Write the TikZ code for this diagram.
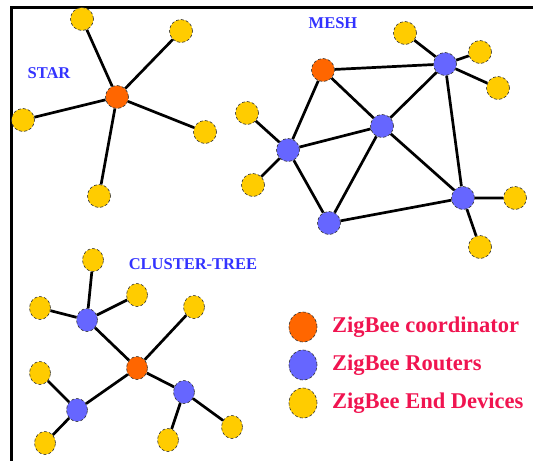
\documentclass[tikz,border=0pt]{standalone}
\usepackage{fontspec}
\setmainfont{Liberation Serif}
\usetikzlibrary{shapes.geometric}

\definecolor{coordorange}{RGB}{255,102,0}
\definecolor{routerblue}{RGB}{102,102,255}
\definecolor{devyellow}{RGB}{255,204,0}
\definecolor{titleblue}{RGB}{51,51,255}
\definecolor{legendred}{RGB}{240,20,80}

\tikzset{
	zb/.style={circle,minimum size=23pt,inner sep=0pt,draw=black!80,densely dashed,line width=0.6pt},
	zbc/.style={zb,fill=coordorange},
	zbr/.style={zb,fill=routerblue},
	zbe/.style={zb,fill=devyellow},
	tall/.style={ellipse,minimum width=21pt,minimum height=23pt},
	big/.style={ellipse,minimum width=28pt,minimum height=30pt},
	link/.style={line width=2.7pt,black},
	title/.style={text=titleblue,font=\fontsize{16.5}{18}\selectfont\bfseries,inner sep=0pt},
	legend/.style={text=legendred,font=\fontsize{22.5}{26}\selectfont\bfseries,anchor=west,inner sep=0pt}
}

\begin{document}
\begin{tikzpicture}[x=1pt,y=-1pt]
	\useasboundingbox (0,0) rectangle (533,461);
	\draw[line width=3pt]
		(533,7)--(11,7)--(11,461);

	\node[title] (startitle) at (49,73) {STAR};
	\node[zbc] (sc) at (117,97) {};
	\node[zbe] (s1) at (82,19) {};
	\node[zbe] (s2) at (181,31) {};
	\node[zbe] (s3) at (23,120) {};
	\node[zbe] (s4) at (205,132) {};
	\node[zbe] (s5) at (99,196) {};
	\draw[link]
		(sc)--(s1) (sc)--(s2) (sc)--(s3)
		(sc)--(s4) (sc)--(s5);

	\node[title] (meshtitle) at (333,23) {MESH};
	\node[zbc] (mc) at (323,70) {};
	\node[zbr] (mr1) at (445,64) {};
	\node[zbr] (mr2) at (382,126) {};
	\node[zbr] (mr3) at (288,150) {};
	\node[zbr] (mr4) at (329,223) {};
	\node[zbr] (mr5) at (463,198) {};
	\node[zbe] (me1) at (405,33) {};
	\node[zbe] (me2) at (480,52) {};
	\node[zbe] (me3) at (498,88) {};
	\node[zbe] (me4) at (247,113) {};
	\node[zbe] (me5) at (253,185) {};
	\node[zbe] (me6) at (515,198) {};
	\node[zbe] (me7) at (480,247) {};
	\draw[link]
		(mc)--(mr1) (mc)--(mr2) (mc)--(mr3)
		(mr1)--(mr2) (mr1)--(mr5)
		(mr3)--(mr2) (mr3)--(mr4)
		(mr2)--(mr4) (mr2)--(mr5) (mr4)--(mr5)
		(mr1)--(me1) (mr1)--(me2) (mr1)--(me3)
		(mr3)--(me4) (mr3)--(me5)
		(mr5)--(me6) (mr5)--(me7);

	\node[title] (treetitle) at (193,264) {CLUSTER-TREE};
	\node[zbc,tall] (tc) at (137,368) {};
	\node[zbr,tall] (tr1) at (87,320) {};
	\node[zbr,tall] (tr2) at (77,410) {};
	\node[zbr,tall] (tr3) at (184,392) {};
	\node[zbe,tall] (te1) at (93,260) {};
	\node[zbe,tall] (te2) at (40,308) {};
	\node[zbe,tall] (te3) at (137,295) {};
	\node[zbe,tall] (te4) at (194,307) {};
	\node[zbe,tall] (te5) at (40,373) {};
	\node[zbe,tall] (te6) at (45,443) {};
	\node[zbe,tall] (te7) at (168,440) {};
	\node[zbe,tall] (te8) at (232,427) {};
	\draw[link]
		(tc)--(tr1) (tc)--(tr2) (tc)--(tr3) (tc)--(te4)
		(tr1)--(te1) (tr1)--(te2) (tr1)--(te3)
		(tr2)--(te5) (tr2)--(te6)
		(tr3)--(te7) (tr3)--(te8);

	\node[zbc,big] (keyc) at (303,327) {};
	\node[zbr,big] (keyr) at (303,365) {};
	\node[zbe,big] (keye) at (303,403) {};
	\node[legend] (keyctext) at (332,327) {ZigBee coordinator};
	\node[legend] (keyrtext) at (332,365) {ZigBee Routers};
	\node[legend] (keyetext) at (332,403) {ZigBee End Devices};
\end{tikzpicture}
\end{document}
